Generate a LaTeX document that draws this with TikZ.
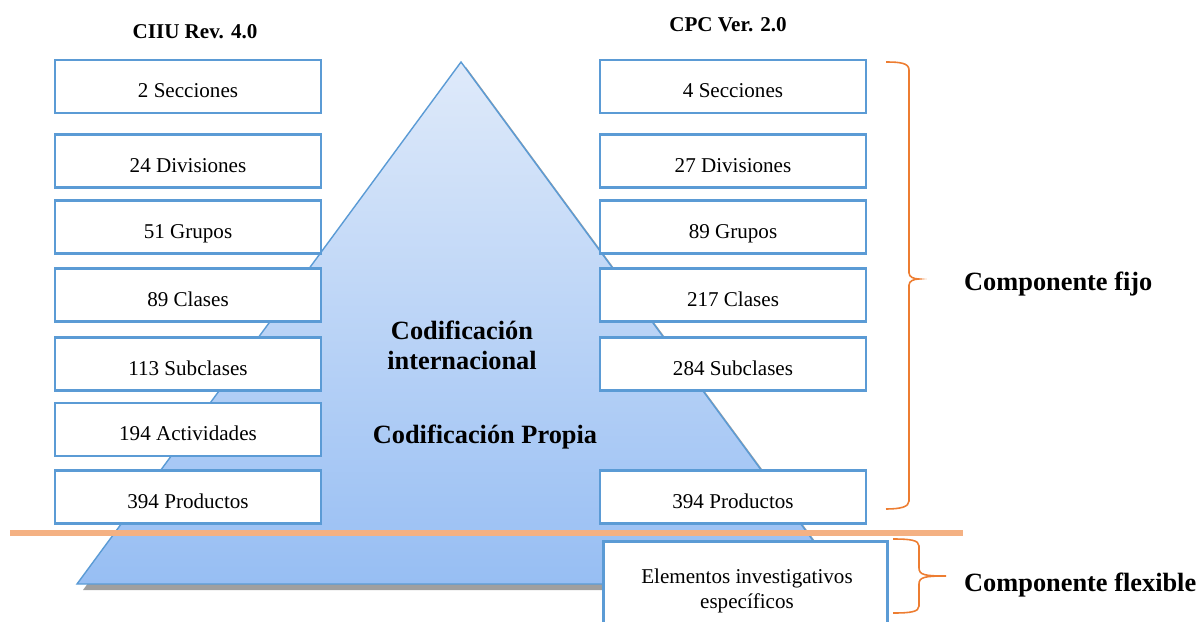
\documentclass[tikz,border=0pt]{standalone}
\usepackage{fontspec}
\setmainfont{Liberation Serif}
\definecolor{boxblue}{HTML}{5B9BD5}
\definecolor{pyrtop}{HTML}{DFEAFA}
\definecolor{pyrbot}{HTML}{97BEF3}
\definecolor{lineorange}{HTML}{F4B183}
\definecolor{braceorange}{HTML}{ED7D31}
\begin{document}
\begin{tikzpicture}[x=0.02cm,y=-0.02cm,
  box/.style={draw=boxblue, line width=1.5pt, fill=white, minimum width=5.32cm, minimum height=1.06cm, inner sep=0pt, text height=12.6pt, text depth=0pt, font=\fontsize{12}{14}\selectfont},
  head/.style={font=\bfseries\fontsize{12}{14}\selectfont},
  big/.style={font=\bfseries\fontsize{15}{17}\selectfont, align=center},
  bracestyle/.style={draw=braceorange, line width=0.9pt}]
\useasboundingbox (0,0) rectangle (1197,622);
% pyramid shadow and body
\fill[gray!75] (466,67) -- (851,590) -- (83,590) -- cycle;
\shade[top color=pyrtop, bottom color=pyrbot, draw=boxblue, line width=0.8pt] (461,62) -- (845,584) -- (77,584) -- cycle;
% headers
\node[head] (h1) at (195,32) {CIIU Rev. 4.0};
\node[head] (h2) at (728,25) {CPC Ver. 2.0};
% left column
\node[box] (l1) at (188,86.5) {2 Secciones};
\node[box] (l2) at (188,161) {24 Divisiones};
\node[box] (l3) at (188,227) {51 Grupos};
\node[box] (l4) at (188,295) {89 Clases};
\node[box] (l5) at (188,364) {113 Subclases};
\node[box] (l6) at (188,429.5) {194 Actividades};
\node[box] (l7) at (188,497) {394 Productos};
% right column
\node[box] (r1) at (733,86.5) {4 Secciones};
\node[box] (r2) at (733,161) {27 Divisiones};
\node[box] (r3) at (733,227) {89 Grupos};
\node[box] (r4) at (733,295) {217 Clases};
\node[box] (r5) at (733,364) {284 Subclases};
\node[box] (r7) at (733,497) {394 Productos};
% center labels
\node[big] (ci) at (462,345) {Codificación\\internacional};
\node[big] (cp) at (485,437) {Codificación Propia};
% orange separator
\coordinate (sepL) at (10,533);
\coordinate (sepR) at (963,533);
\draw[lineorange, line width=3.2pt] (sepL) -- (sepR);
% flexible box
\node[box, minimum width=5.68cm, minimum height=2cm, anchor=north west, text height=, text depth=] (fx) at (602,540) {};
\node[font=\fontsize{12}{14}\selectfont, align=center] (fxt) at (747,591) {Elementos investigativos\\específicos};
% braces
\coordinate (b1t) at (886,62);
\coordinate (b1m) at (919,279);
\coordinate (b1b) at (886,509);
\draw[bracestyle] (b1t) .. controls (900,62) and (909,63) .. (909,70) -- (909,273) .. controls (909,277) and (914,279) .. (b1m) .. controls (914,279) and (909,281) .. (909,285) -- (909,501) .. controls (909,507) and (900,509) .. (b1b);
\coordinate (b2t) at (893,539);
\coordinate (b2m) at (946,576);
\coordinate (b2b) at (893,613);
\draw[bracestyle] (b2t) .. controls (910,539) and (919,540) .. (919,546) -- (919,568) .. controls (919,575) and (925,576) .. (b2m) .. controls (925,576) and (919,577) .. (919,584) -- (919,606) .. controls (919,612) and (910,613) .. (b2b);
\node[big, anchor=west] (cf) at (958,284) {Componente fijo};
\node[big, anchor=west] (cx) at (958,585) {Componente flexible};
\end{tikzpicture}
\end{document}
